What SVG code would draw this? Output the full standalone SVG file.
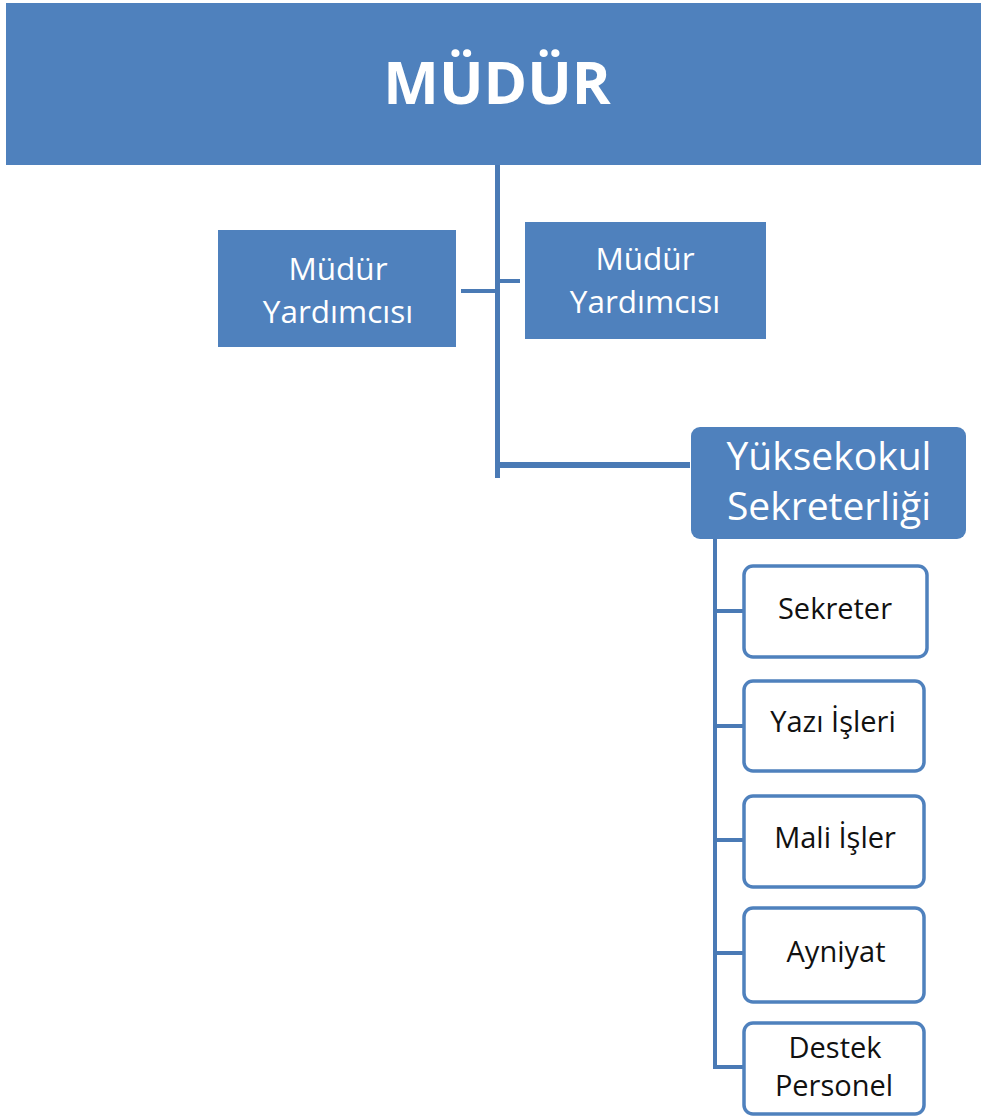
<svg xmlns="http://www.w3.org/2000/svg" width="981" height="1119" viewBox="0 0 981 1119">
<style>
.blue{fill:#4F81BD}
.sub{fill:#fff;stroke:#4F81BD;stroke-width:3.5}
.ln{stroke:#4A7AB5;fill:none}
.wt{fill:#fff;font-family:"Open Sans","Liberation Sans",sans-serif;text-anchor:middle}
.bt{fill:#111;font-family:"Open Sans","Liberation Sans",sans-serif;text-anchor:middle;font-size:29px}
</style>
<rect width="981" height="1119" fill="#fff"/>
<g id="connectors">
<path class="ln" stroke-width="5" d="M497.5 165V478"/>
<path class="ln" stroke-width="4" d="M461 291H497.5M497.5 281H520"/>
<path class="ln" stroke-width="6" d="M497.5 465H690"/>
<path class="ln" stroke-width="4" d="M715 539V1067"/>
<path class="ln" stroke-width="4" d="M715 611H743M715 726H743M715 840H743M715 953H743M713 1067H743"/>
</g>
<g id="mudur">
<rect class="blue" x="6" y="3" width="980" height="162"/>
<text class="wt" x="497" y="104" font-size="59" font-weight="bold">MÜDÜR</text>
</g>
<g id="yardimci-sol">
<rect class="blue" x="218" y="230" width="238" height="117"/>
<text class="wt" x="338" y="280" font-size="31.5">Müdür</text>
<text class="wt" x="338" y="323" font-size="31.5">Yardımcısı</text>
</g>
<g id="yardimci-sag">
<rect class="blue" x="525" y="222" width="241" height="117"/>
<text class="wt" x="645" y="270" font-size="31.5">Müdür</text>
<text class="wt" x="645" y="313" font-size="31.5">Yardımcısı</text>
</g>
<g id="sekreterlik">
<rect class="blue" x="691" y="427" width="275" height="112" rx="9"/>
<text class="wt" x="829" y="470" font-size="39">Yüksekokul</text>
<text class="wt" x="829" y="520" font-size="39">Sekreterliği</text>
</g>
<g id="sekreter">
<rect class="sub" x="744" y="566" width="183" height="91" rx="9"/>
<text class="bt" x="835" y="619">Sekreter</text>
</g>
<g id="yazi-isleri">
<rect class="sub" x="744" y="681" width="180" height="90" rx="9"/>
<text class="bt" x="833" y="732">Yazı İşleri</text>
</g>
<g id="mali-isler">
<rect class="sub" x="744" y="796" width="180" height="91" rx="9"/>
<text class="bt" x="835" y="848">Mali İşler</text>
</g>
<g id="ayniyat">
<rect class="sub" x="744" y="908" width="180" height="94" rx="9"/>
<text class="bt" x="836" y="962">Ayniyat</text>
</g>
<g id="destek-personel">
<rect class="sub" x="744" y="1023" width="180" height="91" rx="9"/>
<text class="bt" x="835" y="1058">Destek</text>
<text class="bt" x="834" y="1096">Personel</text>
</g>
</svg>
